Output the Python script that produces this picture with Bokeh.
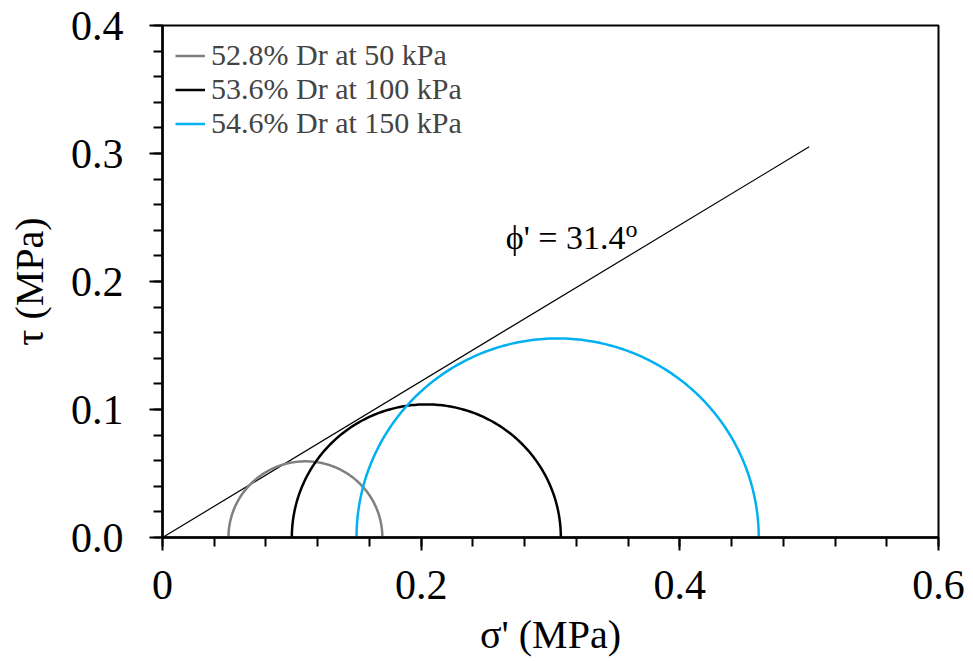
import numpy as np
from bokeh.plotting import figure
from bokeh.models import Range1d, FixedTicker, NumeralTickFormatter, Legend, LegendItem
from bokeh.core.properties import value
from bokeh.embed import file_html
from bokeh.resources import INLINE

# Mohr circles: (sigma3, sigma1) in MPa
series_names = ["52.8% Dr at 50 kPa", "53.6% Dr at 100 kPa", "54.6% Dr at 150 kPa"]
sigma3 = [0.051, 0.100, 0.150]
sigma1 = [0.170, 0.308, 0.461]
series_colors = ["#808080", "#000000", "#00B0F0"]

# failure envelope
phi_deg = 31.4
envelope_x = [0.0, 0.5]

x_ticks = [0.0, 0.2, 0.4, 0.6]
y_ticks = [0.0, 0.1, 0.2, 0.3, 0.4]
x_minor = [round(i * 0.04, 2) for i in range(16)]
y_minor = [round(i * 0.02, 2) for i in range(21)]

FONT = "Liberation Serif"

p = figure(width=973, height=661, output_backend="svg", toolbar_location=None,
           x_range=Range1d(0, 0.6), y_range=Range1d(0, 0.4),
           min_border_left=162, min_border_right=35, min_border_top=25, min_border_bottom=124)
p.background_fill_color = "white"
p.border_fill_color = "white"
p.xgrid.visible = False
p.ygrid.visible = False
p.outline_line_color = "black"
p.outline_line_width = 2

# envelope
env_y = [np.tan(np.radians(phi_deg)) * x for x in envelope_x]
p.line(envelope_x, env_y, line_color="black", line_width=1.2)

items = []
for name, s3, s1, c in zip(series_names, sigma3, sigma1, series_colors):
    cx = (s3 + s1) / 2
    r = (s1 - s3) / 2
    t = np.linspace(np.pi, 0, 200)
    r_ = p.line(cx + r * np.cos(t), r * np.sin(t), line_color=c, line_width=2.5)
    items.append(LegendItem(label=name, renderers=[r_]))

legend = Legend(items=items, location="top_left")
legend.border_line_color = None
legend.background_fill_alpha = 0
legend.label_text_font = FONT
legend.label_text_font_size = "30px"
legend.glyph_width = 30
legend.glyph_height = 33
legend.label_standoff = 6
legend.spacing = 0
legend.padding = 2
legend.margin = 13
legend.label_height = 33
p.add_layout(legend)

p.text(x=[0.358], y=[0.2344], text=["ϕ' = 31.4"], text_font=value(FONT),
       text_font_size="34px", text_baseline="alphabetic", text_align="right", text_color="black")
p.text(x=[0.358], y=[0.2414], text=["o"], text_font=value(FONT),
       text_font_size="24px", text_baseline="alphabetic", text_align="left", text_color="black")

for ax, ticks, minor, fmt in ((p.xaxis[0], x_ticks, x_minor, "0.[0]"), (p.yaxis[0], y_ticks, y_minor, "0.0")):
    ax.ticker = FixedTicker(ticks=ticks, minor_ticks=minor)
    ax.formatter = NumeralTickFormatter(format=fmt)
    ax.axis_line_width = 2.5
    ax.axis_line_color = "black"
    ax.major_tick_line_width = 2
    ax.minor_tick_line_width = 2
    ax.major_tick_in = 0
    ax.minor_tick_in = 0
    ax.major_tick_out = 13
    ax.minor_tick_out = 9
    ax.major_label_text_font = FONT
    ax.major_label_text_font_size = "42px"
    ax.major_label_text_color = "black"
    ax.axis_label_text_font = FONT
    ax.axis_label_text_font_size = "40px"
    ax.axis_label_text_font_style = "normal"
    ax.axis_label_text_color = "black"

p.xaxis.axis_label = "σ' (MPa)"
p.yaxis.axis_label = "τ (MPa)"
p.xaxis.major_label_standoff = 20
p.xaxis.axis_label_standoff = 10
p.yaxis.major_label_standoff = 26
p.yaxis.axis_label_standoff = 16

open("out.html", "w").write(file_html(p, INLINE))
